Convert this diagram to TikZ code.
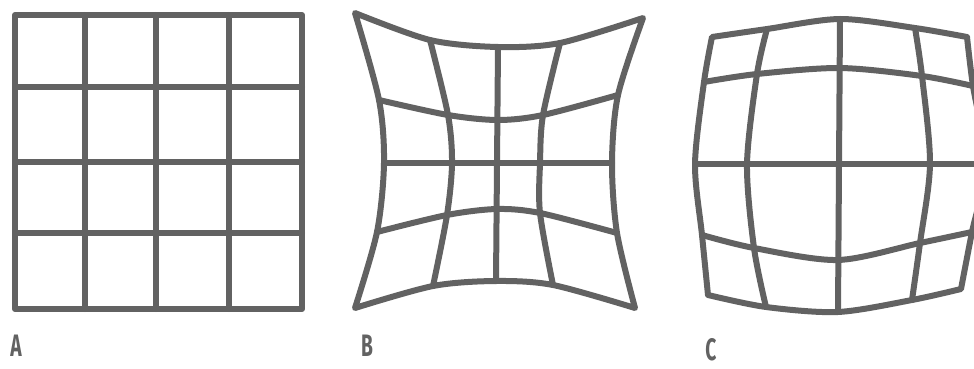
\documentclass[tikz,border=0pt]{standalone}
\usepackage{fontspec}
\newfontfamily\labfont{Fira Sans}
\definecolor{ink}{RGB}{98,98,98}
\begin{document}
\begin{tikzpicture}[x=1pt,y=-1pt,
  gridline/.style={draw=ink, line width=6pt, line join=round, line cap=round},
  lab/.style={font=\labfont\bfseries\fontsize{31}{31}\selectfont, text=ink, xscale=0.62, inner sep=0pt}]
\useasboundingbox (0,0) rectangle (974,369);
\begin{scope}
\clip (0,0) rectangle (974,369);
% ---------- A : regular grid ----------
\draw[gridline] (15,15) rectangle (302,309);
\foreach \x in {85,156,229} \draw[gridline] (\x,15) -- (\x,309);
\foreach \y in {87,162,233} \draw[gridline] (15,\y) -- (302,\y);
% ---------- B : pincushion ----------
\draw[gridline] plot[smooth] coordinates {(355,13) (430,40) (498,47) (560,43) (643,18)}
  -- plot[smooth] coordinates {(643,18) (618,95) (612,163) (617,233) (635,308)}
  -- plot[smooth] coordinates {(635,308) (553,285) (496,281) (433,286) (355,308)}
  -- plot[smooth] coordinates {(355,308) (377,232) (384,163) (379,100) (355,13)} -- cycle;
\draw[gridline] plot[smooth] coordinates {(379,100) (448,115) (498,120) (543,115) (618,95)};
\draw[gridline] (384,163) -- (612,163);
\draw[gridline] plot[smooth] coordinates {(377,232) (447,215) (497,209) (540,213) (617,233)};
\draw[gridline] plot[smooth] coordinates {(430,40) (448,115) (452,163) (447,215) (433,286)};
\draw[gridline] (498,47) -- (496,281);
\draw[gridline] plot[smooth] coordinates {(560,43) (543,115) (540,163) (540,213) (553,285)};
% ---------- C : barrel ----------
\draw[gridline] plot[smooth] coordinates {(712,37) (767,29) (840,19) (915,28) (967,37)}
  -- plot[smooth] coordinates {(967,37) (973,86) (986,164) (972,232) (961,289)}
  -- plot[smooth] coordinates {(961,289) (912,300) (838,312) (766,307) (708,295)}
  -- plot[smooth] coordinates {(708,295) (702,235) (695,164) (704,82) (712,37)} -- cycle;
\draw[gridline] plot[smooth] coordinates {(704,82) (757,74) (840,68) (922,76) (973,86)};
\draw[gridline] (695,164) -- (986,164);
\draw[gridline] plot[smooth] coordinates {(702,235) (754,248) (838,260) (920,243) (972,232)};
\draw[gridline] plot[smooth] coordinates {(767,29) (757,74) (747,164) (754,248) (766,307)};
\draw[gridline] (840,19) -- (838,312);
\draw[gridline] plot[smooth] coordinates {(915,28) (922,76) (930,164) (920,243) (912,300)};
\end{scope}
% ---------- labels ----------
\node[lab] (labA) at (16,346) {A};
\node[lab] (labB) at (367,346) {B};
\node[lab] (labC) at (711,350) {C};
\end{tikzpicture}
\end{document}
